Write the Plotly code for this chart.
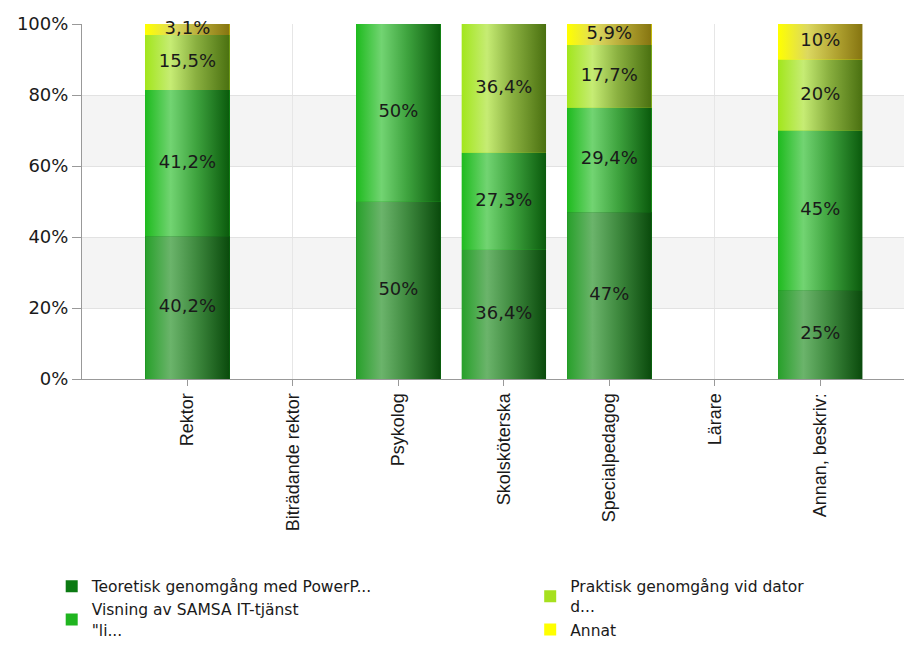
import plotly.graph_objects as go

categories = ["Rektor", "Biträdande rektor", "Psykolog", "Skolsköterska",
              "Specialpedagog", "Lärare", "Annan, beskriv:"]
series_names = ["Teoretisk genomgång med PowerP...",
                "Visning av SAMSA IT-tjänst<br>\"li...",
                "Praktisk genomgång vid dator<br>d...",
                "Annat"]
teoretisk = [40.2, 0, 50, 36.4, 47, 0, 25]
visning = [41.2, 0, 50, 27.3, 29.4, 0, 45]
praktisk = [15.5, 0, 0, 36.4, 17.7, 0, 20]
annat = [3.1, 0, 0, 0, 5.9, 0, 10]
y_ticks = [0, 20, 40, 60, 80, 100]
y_tick_labels = ["0%", "20%", "40%", "60%", "80%", "100%"]

series_values = [teoretisk, visning, praktisk, annat]
legend_colors = ["#0b7a12", "#1fb51f", "#a6e01e", "#ffff00"]
gradients = [
    [[0, "#27a02a"], [0.3, "#6bb46b"], [0.6, "#3f8a3f"], [1, "#0a4a0c"]],
    [[0, "#1ebb1e"], [0.3, "#72d472"], [0.6, "#3fa43f"], [1, "#0a5a0c"]],
    [[0, "#a2e61c"], [0.3, "#c6ec74"], [0.6, "#8ab040"], [1, "#4a7010"]],
    [[0, "#ffff00"], [0.35, "#dcd860"], [0.7, "#b0a230"], [1, "#857410"]],
]
legend_ids = ["legend", "legend", "legend2", "legend2"]
FONT = "Liberation Sans, Arial, sans-serif"
WIDE = "DejaVu Sans, Liberation Sans, sans-serif"
BAR_W = 0.8

fig = go.Figure()
xs = list(range(len(categories)))

# Base bars (data + legend)
for name, vals, col, lg in zip(series_names, series_values, legend_colors, legend_ids):
    fig.add_trace(go.Bar(x=xs, y=vals, name=name, width=BAR_W,
                         marker=dict(color=col, line=dict(width=0)),
                         legend=lg, hoverinfo="skip"))

# Gradient overlays computed from the same data
bases = [0.0] * len(categories)
label_x, label_y, label_t = [], [], []
for vals, grad in zip(series_values, gradients):
    for i, v in enumerate(vals):
        if v > 0:
            b = bases[i]
            top = min(b + v, 100)
            fig.add_trace(go.Scatter(
                x=[i - BAR_W / 2, i + BAR_W / 2, i + BAR_W / 2, i - BAR_W / 2, i - BAR_W / 2],
                y=[b, b, top, top, b],
                mode="lines", line=dict(width=0), fill="toself",
                fillgradient=dict(type="horizontal", colorscale=grad),
                showlegend=False, hoverinfo="skip"))
            label_x.append(i)
            label_y.append(b + v / 2)
            label_t.append(f"{v:g}".replace(".", ",") + "%")
            bases[i] = b + v

fig.add_trace(go.Scatter(x=label_x, y=label_y, text=label_t, mode="text",
                         textfont=dict(family=WIDE, size=18, color="#1a1a1a"),
                         showlegend=False, hoverinfo="skip", cliponaxis=False))

# Alternating bands
shapes = []
for k in range(1, len(y_ticks) - 1, 2):
    shapes.append(dict(type="rect", xref="paper", x0=0, x1=1, yref="y",
                       y0=y_ticks[k], y1=y_ticks[k + 1], fillcolor="#f4f4f4",
                       line=dict(width=0), layer="below"))

# page body has an 8px margin, so the figure is drawn 8px in from the top-left
fig.update_layout(
    width=904, height=638,
    margin=dict(l=74, r=0, t=16, b=267, autoexpand=False),
    barmode="stack",
    plot_bgcolor="white", paper_bgcolor="white",
    font=dict(family=FONT, size=18, color="#1a1a1a"),
    shapes=shapes,
    xaxis=dict(range=[-1, 6.87], tickmode="array", tickvals=xs, ticktext=categories,
               tickangle=-90, ticks="outside", ticklen=6, tickcolor="#999",
               showline=True, linecolor="#999", showgrid=True, gridcolor="#e6e6e6",
               zeroline=False, tickfont=dict(family=FONT, size=18), automargin=False),
    yaxis=dict(range=[0, 100], tickmode="array", tickvals=y_ticks, ticktext=y_tick_labels,
               ticks="outside", ticklen=9, tickcolor="#999", showline=True, linecolor="#999",
               showgrid=True, gridcolor="#e2e2e2", zeroline=False,
               tickfont=dict(family=WIDE, size=18), automargin=False),
    legend=dict(x=-0.0365, y=-0.537, xanchor="left", yanchor="top", orientation="v",
                traceorder="normal", font=dict(family=WIDE, size=15.5), tracegroupgap=0,
                bgcolor="rgba(0,0,0,0)"),
    legend2=dict(x=0.540, y=-0.537, xanchor="left", yanchor="top", orientation="v",
                 traceorder="normal", font=dict(family=WIDE, size=15.5), tracegroupgap=0,
                 bgcolor="rgba(0,0,0,0)"),
)

fig.write_html("out.html")
